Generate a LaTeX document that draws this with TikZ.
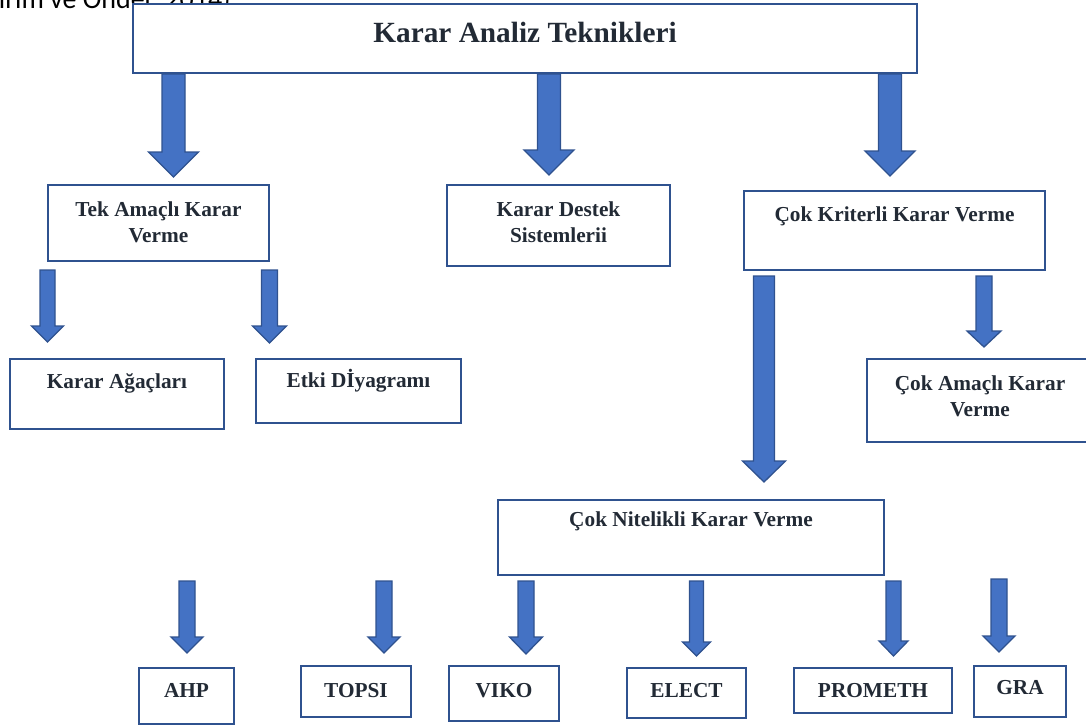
\documentclass[tikz,border=0pt]{standalone}
\usepackage{fontspec}
\setmainfont{Liberation Serif}
\newfontfamily\capfont{Carlito}
\usetikzlibrary{calc}
\definecolor{boxline}{HTML}{2F528F}
\definecolor{arrline}{HTML}{2F528F}
\definecolor{arrfill}{HTML}{4472C4}
\definecolor{txtcol}{HTML}{222A35}
\tikzset{
  box/.style  = {draw=boxline, line width=2pt, fill=white, inner sep=0pt, anchor=north west},
  lbl/.style  = {anchor=north, inner sep=0pt, align=center, text=txtcol,
                 font=\bfseries\fontsize{21.3}{26}\selectfont},
  ttl/.style  = {lbl, font=\bfseries\fontsize{29.3}{34}\selectfont},
  barr/.style = {draw=arrline, fill=arrfill, line width=1.3pt, line join=miter},
  srcs/.style = {anchor=base east, inner sep=0pt, font=\capfont\fontsize{28}{30}\selectfont},
}
% block arrow: [gap below source]{source}{tip}{shaft half}{head half}{head length}
\newcommand\barrow[6][0]{%
  \draw[barr] ($(#3 |- #2.south)+(-#4,#1)$) -- ($(#3)+(-#4,-#6)$) -- ($(#3)+(-#5,-#6)$)
    -- (#3) -- ($(#3)+(#5,-#6)$) -- ($(#3)+(#4,-#6)$) -- ($(#3 |- #2.south)+(#4,#1)$) -- cycle;}

\begin{document}
\begin{tikzpicture}[x=1pt, y=-1pt]
\useasboundingbox (0,0) rectangle (1086,724);

% --- cut-off source line above the chart ------------------------------------
\node[srcs] (src) at (238,8) {(Yıldırım ve Önder, 2014).};

% --- boxes -------------------------------------------------------------------
\node[box, minimum width=784, minimum height=69,
      label={[ttl, yshift=-19pt]north:Karar Analiz Teknikleri}] (top) at (132,3) {};
\node[box, minimum width=221, minimum height=76,
      label={[lbl, yshift=-18pt]north:{Tek Amaçlı Karar\\Verme}}] (tek) at (47,184) {};
\node[box, minimum width=223, minimum height=81,
      label={[lbl, yshift=-18pt]north:{Karar Destek\\Sistemlerii}}] (kds) at (446,184) {};
\node[box, minimum width=301, minimum height=79,
      label={[lbl, yshift=-17pt]north:Çok Kriterli Karar Verme}] (ckkv) at (743,190) {};
\node[box, minimum width=214, minimum height=70,
      label={[lbl, yshift=-15pt]north:Karar Ağaçları}] (agac) at (9,358) {};
\node[box, minimum width=205, minimum height=64,
      label={[lbl, yshift=-11pt]north:Etki Dİyagramı}] (etki) at (255,358) {};
\node[box, minimum width=226, minimum height=83,
      label={[lbl, yshift=-18pt]north:{Çok Amaçlı Karar\\Verme}}] (ckav) at (866,358) {};
\node[box, minimum width=386, minimum height=75,
      label={[lbl, yshift=-13pt]north:Çok Nitelikli Karar Verme}] (cnkv) at (497,499) {};

% methods row
\node[box, minimum width=95,  minimum height=56, label={[lbl, yshift=-16pt]north:AHP}]     (ahp)   at (138,667) {};
\node[box, minimum width=110, minimum height=51, label={[lbl, yshift=-18pt]north:TOPSI}]   (topsi) at (300,665) {};
\node[box, minimum width=110, minimum height=55, label={[lbl, yshift=-18pt]north:VIKO}]    (viko)  at (448,665) {};
\node[box, minimum width=119, minimum height=50, label={[lbl, yshift=-16pt]north:ELECT}]   (elect) at (626,667) {};
\node[box, minimum width=158, minimum height=45, label={[lbl, yshift=-16pt]north:PROMETH}] (prom)  at (793,667) {};
\node[box, minimum width=92,  minimum height=51, label={[lbl, yshift=-15pt]north:GRA}]     (gra)   at (973,665) {};

% --- arrow tips ----------------------------------------------------------------
\coordinate (t1) at (173.5,177);
\coordinate (t2) at (549,175);
\coordinate (t3) at (890,176);
\coordinate (t4) at (47.5,342);
\coordinate (t5) at (269.5,343);
\coordinate (t6) at (764,482);
\coordinate (t7) at (984,347);
\coordinate (m1) at (187,653);
\coordinate (m2) at (384,653);
\coordinate (m3) at (526,654);
\coordinate (m4) at (696.5,656);
\coordinate (m5) at (893.5,656);
\coordinate (m6) at (999,652);

% --- arrows --------------------------------------------------------------------
\barrow{top}{t1}{11.5}{25}{25}
\barrow{top}{t2}{11.5}{25}{25}
\barrow{top}{t3}{11.5}{25}{25}
\barrow[8]{tek}{t4}{7.5}{16}{16}
\barrow[8]{tek}{t5}{8}{17}{17}
\barrow[5]{ckkv}{t6}{10.5}{21.5}{21}
\barrow[5]{ckkv}{t7}{8}{17}{16}
\barrow[5]{cnkv}{m1}{8}{16}{16}
\barrow[5]{cnkv}{m2}{8}{16}{16}
\barrow[5]{cnkv}{m3}{8}{16.5}{17}
\barrow[5]{cnkv}{m4}{7}{14}{14}
\barrow[5]{cnkv}{m5}{7.5}{14.5}{15}
\barrow[3]{cnkv}{m6}{8}{16}{16}
\end{tikzpicture}
\end{document}
